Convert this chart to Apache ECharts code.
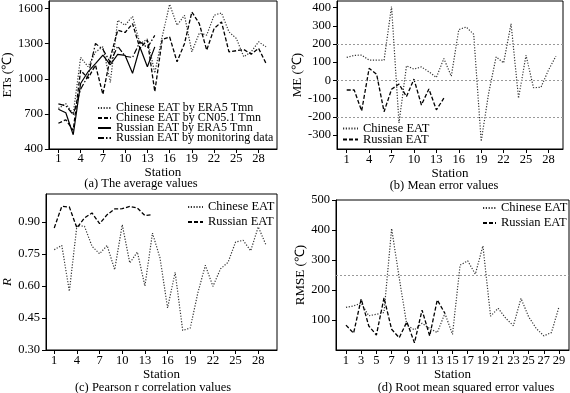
<!DOCTYPE html>
<html><head><meta charset="utf-8">
<script src="https://cdn.jsdelivr.net/npm/echarts@6/dist/echarts.min.js"></script>
<style>html,body{margin:0;padding:0;background:#fff}#c{width:570px;height:393px}</style>
</head><body><div id="c"></div>
<script>
// ---------- data ----------
const stations = [1,2,3,4,5,6,7,8,9,10,11,12,13,14,15,16,17,18,19,20,21,22,23,24,25,26,27,28,29];

// (a) average values (°C)
const chineseERA5 = [746,787,700,1183,1103,1228,1274,970,1500,1458,1534,1300,1340,1050,1360,1637,1458,1543,1231,1390,1374,1543,1563,1401,1345,1188,1231,1316,1273];
const chineseCN05 = [620,650,560,1072,1004,1117,868,1180,1415,1396,1472,1260,1330,890,1335,1358,1146,1300,1571,1472,1245,1430,1486,1231,1240,1250,1211,1260,1132];
const russianERA5 = [740,710,522,960,1060,1130,1203,1120,1208,1200,1047,1270,1103,1273];
const russianMon  = [785,770,692,911,1026,1302,1252,1140,1279,1193,1182,1317,1265,1371];

// (b) mean error
const meChinese = [126,137,139,111,111,111,406,-234,80,62,74,47,16,120,23,279,293,253,-335,-70,129,96,311,-98,138,-40,-38,56,133];
const meRussian = [-53,-53,-168,66,34,-172,-49,-20,-89,7,-135,-47,-162,-98];

// (c) Pearson r
const rChinese = [0.77,0.79,0.575,0.883,0.88,0.786,0.751,0.79,0.676,0.887,0.708,0.759,0.60,0.848,0.731,0.497,0.664,0.392,0.403,0.567,0.697,0.598,0.68,0.711,0.806,0.814,0.765,0.877,0.794];
const rRussian = [0.872,0.973,0.970,0.872,0.919,0.942,0.892,0.934,0.961,0.962,0.973,0.965,0.930,0.934];

// (d) RMSE
const rmseChinese = [142,147,156,114,119,125,405,240,83,67,89,72,58,122,52,283,297,253,347,113,139,106,81,172,111,72,47,58,144];
const rmseRussian = [83,56,170,80,50,174,69,41,94,24,133,47,167,122];

// tick labels
const xTicks3 = [1,4,7,10,13,16,19,22,25,28];
const xTicks2 = [1,3,5,7,9,11,13,15,17,19,21,23,25,27,29];
const yTicksA = [400,700,1000,1300,1600];
const yTicksB = [-300,-200,-100,0,100,200,300,400];
const yTicksC = [0.30,0.45,0.60,0.75,0.90];
const yTicksD = [100,200,300,400,500];

const captions = ['(a) The average values','(b) Mean error values','(c) Pearson r correlation values','(d) Root mean squared error values'];

// ---------- chart ----------
const F = "'Liberation Serif','Times New Roman',serif";
const pairs = vals => vals.map((v,i)=>[stations[i], v]);

const DOT = {color:'#333', width:1.2, type:[1.2,1.6]};
const DASH = {color:'#000', width:1.3, type:[4,2]};
const SOLID = {color:'#000', width:1.2, type:'solid'};
const DASHDOT = {color:'#000', width:1.2, type:[6,2,1.5,2]};

function xAx(g, min, max, ticks, margin){
  return {type:'value', gridIndex:g, min:min, max:max, name:'Station', nameLocation:'middle', nameGap:16,
    nameTextStyle:{fontFamily:F, fontSize:13, color:'#000'},
    axisLine:{show:true, onZero:false, lineStyle:{color:'#000', width:1}},
    axisTick:{show:true, inside:false, length:4, customValues:ticks, lineStyle:{color:'#000'}},
    axisLabel:{customValues:ticks, margin:margin, fontFamily:F, fontSize:12.5, color:'#000', formatter:v=>String(v)},
    splitLine:{show:false}};
}
function yAx(g, min, max, ticks, name, gap, fmt, nameStyle){
  return {type:'value', gridIndex:g, min:min, max:max, name:name, nameLocation:'middle', nameGap:gap,
    nameTextStyle:Object.assign({fontFamily:F, fontSize:13, color:'#000'}, nameStyle||{}),
    axisLine:{show:true, onZero:false, lineStyle:{color:'#000', width:1}},
    axisTick:{show:true, inside:false, length:4, customValues:ticks, lineStyle:{color:'#000'}},
    axisLabel:{customValues:ticks, margin:6, fontFamily:F, fontSize:12.5, color:'#000', formatter:fmt || (v=>String(v))},
    splitLine:{show:false}};
}
function line(name, xi, vals, style, extra){
  return Object.assign({type:'line', name:name, xAxisIndex:xi, yAxisIndex:xi, data:pairs(vals),
    symbol:'none', showSymbol:false, lineStyle:style, itemStyle:{color:style.color},
    emphasis:{disabled:true}, silent:true, animation:false, clip:true}, extra||{});
}
function legend(names, left, top, iw, lh, gap, fs){
  return {left:left, top:top, orient:'vertical', itemGap:gap, itemWidth:iw, itemHeight:1,
    padding:0, selectedMode:false, data:names,
    itemStyle:{color:'rgba(0,0,0,0)', borderColor:'rgba(0,0,0,0)', borderWidth:0, opacity:0},
    textStyle:{fontFamily:F, fontSize:fs, color:'#000', lineHeight:lh}};
}
const refLine = vals => ({symbol:'none', silent:true, label:{show:false}, animation:false,
  lineStyle:{color:'#999', width:1, type:[2,2]}, data:vals.map(v=>({yAxis:v}))});

const chart = echarts.init(document.getElementById('c'), null, {renderer:'canvas'});
chart.setOption({
  animation:false,
  backgroundColor:'#fff',
  grid:[
    {left:45, top:1, width:232, height:148, show:true, borderColor:'#000', borderWidth:1},
    {left:337, top:1, width:226, height:148, show:true, borderColor:'#000', borderWidth:1},
    {left:45, top:194, width:232, height:156, show:true, borderColor:'#000', borderWidth:1},
    {left:336, top:200, width:233, height:150, show:true, borderColor:'#000', borderWidth:1}
  ],
  xAxis:[
    xAx(0, -0.28, 30.48, xTicks3, 3),
    xAx(1, -0.30, 29.95, xTicks3, 4),
    xAx(2, -0.09, 30.48, xTicks3, 4),
    xAx(3, -0.31, 30.31, xTicks2, 4)
  ],
  yAxis:[
    yAx(0, 400, 1665, yTicksA, 'ETs (℃)', 29),
    yAx(1, -377, 436, yTicksB, 'ME (℃)', 30),
    yAx(2, 0.30, 1.031, yTicksC, 'R', 32, v=>v.toFixed(2), {fontStyle:'italic', padding:[0,20,0,0]}),
    yAx(3, 0, 500, yTicksD, 'RMSE (℃)', 27)
  ],
  legend:[
    legend(['Chinese EAT by ERA5 Tmn','Chinese EAT by CN05.1 Tmn','Russian EAT by ERA5 Tmn','Russian EAT by monitoring data'], 97, 102, 13, 10, -2, 12),
    legend(['Chinese EAT','Russian EAT'], 342, 122, 15, 10, -2, 12.5),
    legend(['Chinese EAT','Russian EAT'], 187, 200, 15, 14, 1, 12.5),
    legend(['Chinese EAT','Russian EAT'], 482, 201, 13, 14, 1, 12.5)
  ],
  series:[
    line('Chinese EAT by ERA5 Tmn', 0, chineseERA5, DOT),
    line('Chinese EAT by CN05.1 Tmn', 0, chineseCN05, DASH),
    line('Russian EAT by ERA5 Tmn', 0, russianERA5, SOLID),
    line('Russian EAT by monitoring data', 0, russianMon, DASHDOT),
    line('Chinese EAT', 1, meChinese, DOT, {markLine:refLine([200,0,-200])}),
    line('Russian EAT', 1, meRussian, DASH),
    line('Chinese EAT', 2, rChinese, DOT),
    line('Russian EAT', 2, rRussian, DASH),
    line('Chinese EAT', 3, rmseChinese, DOT, {markLine:refLine([250])}),
    line('Russian EAT', 3, rmseRussian, DASH)
  ],
  graphic:[
    {type:'text', x:141, y:184, style:{text:captions[0], font:"12.5px 'Liberation Serif'", fill:'#000', align:'center', verticalAlign:'middle'}},
    {type:'text', x:444, y:186, style:{text:captions[1], font:"12.5px 'Liberation Serif'", fill:'#000', align:'center', verticalAlign:'middle'}},
    {type:'text', x:153, y:388, style:{text:captions[2], font:"12.5px 'Liberation Serif'", fill:'#000', align:'center', verticalAlign:'middle'}},
    {type:'text', x:466, y:388, style:{text:captions[3], font:"12.5px 'Liberation Serif'", fill:'#000', align:'center', verticalAlign:'middle'}}
  ]
});
</script></body></html>
